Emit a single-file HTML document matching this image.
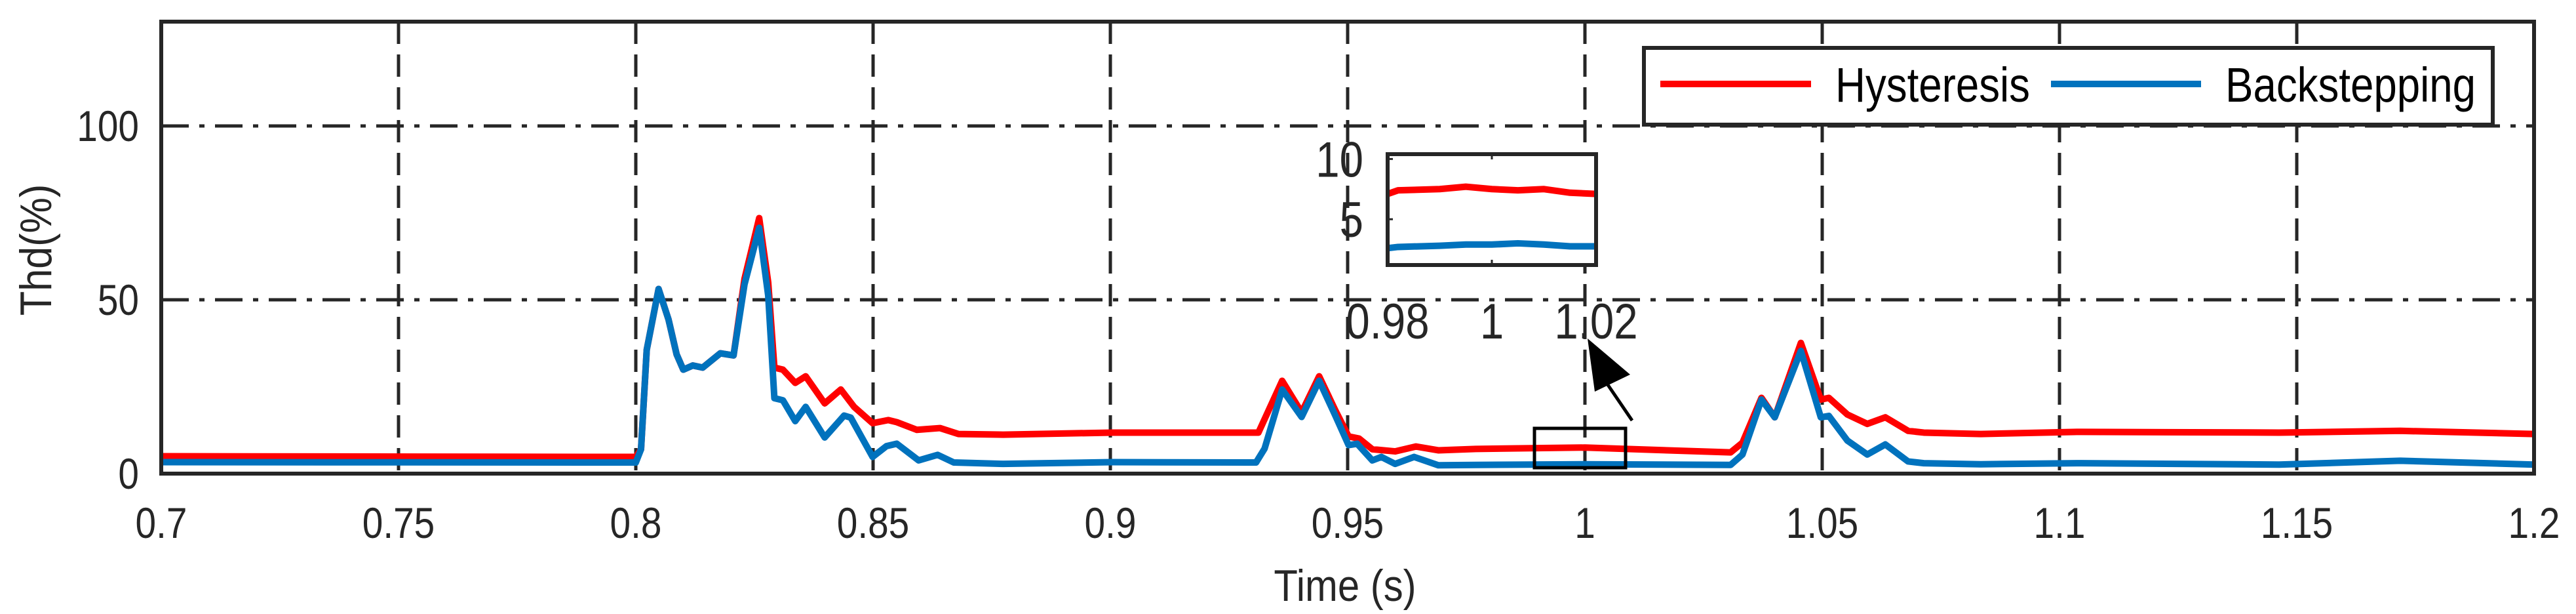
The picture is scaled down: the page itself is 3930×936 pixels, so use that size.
<!DOCTYPE html>
<html><head><meta charset="utf-8"><style>
html,body{margin:0;padding:0;background:#fff;}
svg{display:block;font-family:"Liberation Sans",Arial,sans-serif;}
</style></head><body>
<svg id="chart" width="3930" height="936" viewBox="0 0 3930 936" xmlns="http://www.w3.org/2000/svg">
<defs><clipPath id="plotclip"><rect x="246" y="33" width="3620" height="689"/></clipPath>
<clipPath id="insetclip"><rect x="2117" y="235" width="318" height="169"/></clipPath></defs>
<g id="grid"></g>
<g id="series" clip-path="url(#plotclip)"></g>
<rect x="246" y="33" width="3620" height="689" fill="none" stroke="#262626" stroke-width="6"/>
<g id="ticks" font-size="66" fill="#262626"></g>
<g transform="translate(78,381) rotate(-90) scale(0.9,1)"><text x="0" y="0" font-size="68" fill="#262626" text-anchor="middle">Thd(%)</text></g>
<g transform="translate(2052,916) scale(0.88,1)"><text x="0" y="0" font-size="68" fill="#262626" text-anchor="middle">Time (s)</text></g>
<g>
<rect x="2508" y="73" width="1295" height="117" fill="#fff" stroke="#262626" stroke-width="6"/>
<line x1="2533" y1="128" x2="2763" y2="128" stroke="#ff0000" stroke-width="10"/>
<g transform="translate(2800,155) scale(0.86,1)"><text x="0" y="0" font-size="74" fill="#000">Hysteresis</text></g>
<line x1="3129" y1="128" x2="3358" y2="128" stroke="#0072bd" stroke-width="10"/>
<g transform="translate(3395,155) scale(0.86,1)"><text x="0" y="0" font-size="74" fill="#000">Backstepping</text></g>
</g>
<rect x="2341" y="653" width="139" height="60" fill="none" stroke="#000" stroke-width="5"/>
<g>
<line x1="2490" y1="641" x2="2445" y2="575" stroke="#000" stroke-width="5"/>
<polygon points="2422,516 2433,597 2487,571" fill="#000"/>
</g>
<g id="inset"></g>
</svg>
<script>
const NS='http://www.w3.org/2000/svg';
const xTicks=[0.7,0.75,0.8,0.85,0.9,0.95,1,1.05,1.1,1.15,1.2];
const xTickLabels=['0.7','0.75','0.8','0.85','0.9','0.95','1','1.05','1.1','1.15','1.2'];
const yTicks=[0,50,100];
const yTickLabels=['0','50','100'];
const timeH=[0.7,0.8,0.8011,0.8023,0.8048,0.8069,0.8086,0.81,0.812,0.8141,0.8178,0.8206,0.8229,0.826,0.8279,0.8292,0.831,0.8336,0.8358,0.8398,0.8432,0.846,0.8499,0.8532,0.855,0.8592,0.8641,0.868,0.8774,0.9003,0.9312,0.9362,0.9403,0.944,0.9474,0.9502,0.9524,0.9552,0.96,0.9644,0.9691,0.977,1.0,1.0307,1.0332,1.0372,1.04,1.0455,1.0497,1.0514,1.0553,1.0595,1.0633,1.0681,1.0714,1.0834,1.1037,1.1463,1.1718,1.2];
const hysteresis=[5.0,4.8,7,35.6,53.1,44.3,34.3,29.9,31.1,30.5,34.6,34,56,73.5,55,30.5,29.9,26.1,28,20.2,24.2,19.2,14.5,15.4,14.8,12.6,13.1,11.4,11.2,11.8,11.8,26.7,17.6,28,18.2,10.7,10.1,7,6.4,7.8,6.7,7.1,7.5,6.1,8.9,21.8,16.2,37.6,21.3,21.8,17,14.3,16.2,12.3,11.8,11.4,12,11.8,12.3,11.4];
const timeB=[0.7,0.8,0.8011,0.8023,0.8048,0.8069,0.8086,0.81,0.812,0.8141,0.8178,0.8206,0.8229,0.826,0.8279,0.8292,0.831,0.8336,0.8358,0.8398,0.8439,0.8453,0.8499,0.8528,0.855,0.8596,0.8636,0.867,0.8774,0.9003,0.9307,0.9325,0.9362,0.9403,0.944,0.9474,0.9502,0.952,0.9552,0.9571,0.96,0.964,0.9691,0.977,1.0,1.0307,1.0332,1.0372,1.04,1.0455,1.0497,1.0514,1.0553,1.0595,1.0633,1.0681,1.0714,1.0834,1.1037,1.1463,1.1718,1.2];
const backstepping=[3.3,3.2,7,35.6,53.1,44.3,34.3,29.9,31.1,30.5,34.6,34,54.4,70.7,51.2,21.7,21.1,15.1,19.2,10.4,16.7,16.1,4.8,7.9,8.6,3.8,5.4,3.2,2.8,3.3,3.2,7.2,24.2,16.3,26.7,16.7,8.2,8.6,3.8,4.8,2.8,4.8,2.4,2.5,2.7,2.5,5.5,21.3,16.2,35.3,16.2,16.6,9.5,5.5,8.4,3.5,3.0,2.7,3,2.6,3.7,2.6];
const insetTime=[0.98,0.982,0.99,0.995,1.0,1.005,1.01,1.015,1.02];
const insetH=[7.1,7.4,7.5,7.7,7.5,7.4,7.5,7.2,7.1];
const insetB=[2.6,2.7,2.8,2.9,2.9,3.0,2.9,2.75,2.75];
const insetXTicks=[0.98,1,1.02];
const insetXLabels=['0.98','1','1.02'];
const insetYTicks=[5,10];
const insetYLabels=['5','10'];

const X0=246,X1=3866,Y0=722,Y1=33,xmin=0.7,xmax=1.2,ymin=0,ymax=130;
const sx=t=>X0+(t-xmin)/(xmax-xmin)*(X1-X0);
const sy=v=>Y0-(v-ymin)/(ymax-ymin)*(Y0-Y1);
const IX0=2117,IX1=2435,IY0=404,IY1=235,ixmin=0.98,ixmax=1.02,iymin=1.2,iymax=10.4;
const isx=t=>IX0+(t-ixmin)/(ixmax-ixmin)*(IX1-IX0);
const isy=v=>IY0-(v-iymin)/(iymax-iymin)*(IY0-IY1);
function mk(tag,attrs,parent){const e=document.createElementNS(NS,tag);for(const k in attrs)e.setAttribute(k,attrs[k]);parent.appendChild(e);return e;}
function ctext(parent,x,y,anchor,size,str){const g=mk('g',{transform:'translate('+x+','+y+') scale(0.86,1)'},parent);const e=mk('text',{x:0,y:0,'text-anchor':anchor,'font-size':size,fill:'#262626'},g);e.textContent=str;return e;}
const grid=document.getElementById('grid');
xTicks.forEach((t,i)=>{if(i===0||i===xTicks.length-1)return;
 const l=mk('line',{x1:sx(t),x2:sx(t),y1:Y1,y2:Y0,stroke:'#262626','stroke-width':5,'stroke-dasharray':'34,16'},grid);
 
 });
yTicks.forEach((v,i)=>{if(v===0)return;
 const l=mk('line',{x1:X0,x2:X1,y1:sy(v),y2:sy(v),stroke:'#262626','stroke-width':5,'stroke-dasharray':'42,16,8,16'},grid);
 
 });
const ticks=document.getElementById('ticks');
xTicks.forEach((t,i)=>{const e=ctext(ticks,sx(t),820,'middle',66,xTickLabels[i]);
 
 });
yTicks.forEach((v,i)=>{const e=ctext(ticks,212,sy(v)+23,'end',66,yTickLabels[i]);
 
 });
const series=document.getElementById('series');
function line(ts,vs,color,fx,fy,parent,name){const p=mk('polyline',{points:ts.map((t,i)=>fx(t)+','+fy(vs[i])).join(' '),fill:'none',stroke:color,'stroke-width':10,'stroke-linejoin':'round'},parent);
 
 }
line(timeH,hysteresis,'#ff0000',sx,sy,series,'hysteresis-line');
line(timeB,backstepping,'#0072bd',sx,sy,series,'backstepping-line');
const inset=document.getElementById('inset');
const bg=mk('rect',{x:IX0,y:IY1,width:IX1-IX0,height:IY0-IY1,fill:'#fff'},inset);


const ig=mk('g',{'clip-path':'url(#insetclip)'},inset);


line(insetTime,insetH,'#ff0000',isx,isy,ig,'inset-hysteresis-line');
line(insetTime,insetB,'#0072bd',isx,isy,ig,'inset-backstepping-line');
const ib=mk('rect',{x:IX0,y:IY1,width:IX1-IX0,height:IY0-IY1,fill:'none',stroke:'#262626','stroke-width':6},inset);


insetXTicks.forEach((t,i)=>{
 const e=ctext(inset,isx(t),516,'middle',76,insetXLabels[i]);
 
 
 if(i>0&&i<insetXTicks.length-1){mk('line',{x1:isx(t),x2:isx(t),y1:IY1,y2:IY1+8,stroke:'#262626','stroke-width':3},inset);mk('line',{x1:isx(t),x2:isx(t),y1:IY0,y2:IY0-8,stroke:'#262626','stroke-width':3},inset);}});
insetYTicks.forEach((v,i)=>{
 const e=ctext(inset,2080,isy(v)+27,'end',76,insetYLabels[i]);
 
 
 mk('line',{x1:IX0,x2:IX0+8,y1:isy(v),y2:isy(v),stroke:'#262626','stroke-width':3},inset);});
</script>
</body></html>
